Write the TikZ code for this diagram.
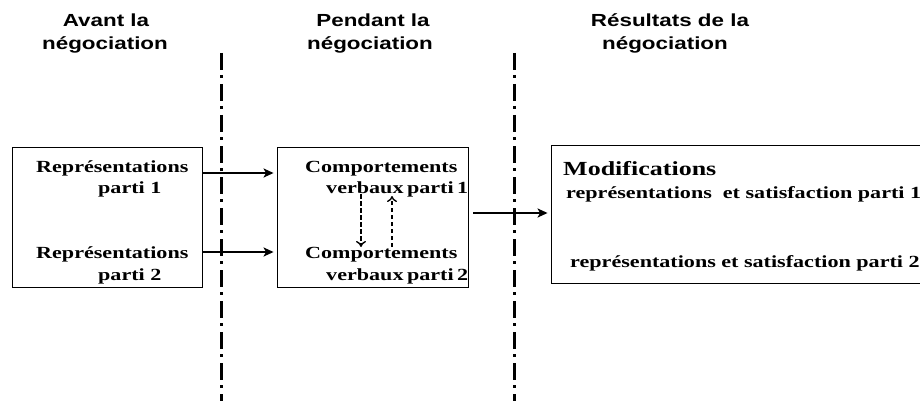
\documentclass[tikz,border=0pt]{standalone}
\usepackage{fontspec}
\usetikzlibrary{arrows.meta}
\newfontfamily\headfont[FakeStretch=1.28]{Liberation Sans}
\newfontfamily\bodyfont[FakeStretch=1.3]{Liberation Serif}
\tikzset{
  head/.style={anchor=base,inner sep=0pt,font=\headfont\bfseries\fontsize{17.5}{20}\selectfont},
  body/.style={anchor=base west,inner sep=0pt,font=\bodyfont\bfseries\fontsize{17}{20}\selectfont},
  bigbody/.style={anchor=base west,inner sep=0pt,font=\bodyfont\bfseries\fontsize{20}{24}\selectfont},
  panel/.style={draw,line width=0.9pt,inner sep=0pt},
  divider/.style={line width=3pt,dash pattern=on 17pt off 5pt on 3pt off 6pt},
  arr/.style={line width=2pt,-{Stealth[length=10pt,width=9pt,inset=2.5pt]}},
  darr/.style={line width=1.4pt,dash pattern=on 4.5pt off 2.5pt,-{To[length=6pt,width=10pt,line width=1.4pt]}}
}
\begin{document}
\begin{tikzpicture}[x=1pt,y=-1pt]
\useasboundingbox (0,0) rectangle (920,401);
\clip (0,0) rectangle (920,401);
% headings
\node[head] (h1a) at (106,27) {Avant la};
\node[head] (h1b) at (105,50) {négociation};
\node[head] (h2a) at (373,27) {Pendant la};
\node[head] (h2b) at (370,50) {négociation};
\node[head] (h3a) at (670,27) {Résultats de la};
\node[head] (h3b) at (665,50) {négociation};
% dividers
\coordinate (d1t) at (221,53);
\coordinate (d1b) at (221,405);
\coordinate (d2t) at (514,53);
\coordinate (d2b) at (514,405);
\draw[divider] (d1t) -- (d1b);
\draw[divider] (d2t) -- (d2b);
% boxes
\node[panel,minimum width=190pt,minimum height=140pt] (lbox) at (107,217) {};
\node[panel,minimum width=191pt,minimum height=140pt] (mbox) at (372.5,217) {};
\node[panel,minimum width=384pt,minimum height=138pt] (rbox) at (743,214) {};
% texts
\node[body] (l1) at (36,172) {Représentations};
\node[body] (l1b) at (98,193) {parti 1};
\node[body] (l2) at (36,258) {Représentations};
\node[body] (l2b) at (98,280) {parti 2};
\node[body] (m1) at (305,172) {Comportements};
\node[body] (m1b) at (326,193) {verbaux\hspace{3.5pt}parti\hspace{3.5pt}1};
\node[body] (m2) at (305,258) {Comportements};
\node[body] (m2b) at (326,280) {verbaux\hspace{3.5pt}parti\hspace{3.5pt}2};
\node[bigbody] (r0) at (563,175) {Modifications};
\node[body] (r1) at (566,198) {représentations~ et satisfaction parti 1};
\node[body] (r2) at (570,267) {représentations et satisfaction parti 2};
% arrows
\coordinate (a1) at (0,173);
\coordinate (a2) at (0,252);
\coordinate (a3) at (0,213);
\draw[arr,shorten >=3pt] (lbox.east |- a1) -- (mbox.west |- a1);
\draw[arr,shorten >=3pt] (lbox.east |- a2) -- (mbox.west |- a2);
\draw[arr,shorten <=5pt,shorten >=3pt] (mbox.east |- a3) -- (rbox.west |- a3);
\coordinate (dn1) at (361,194);
\coordinate (dn2) at (361,247);
\coordinate (up1) at (392,247);
\coordinate (up2) at (392,196);
\draw[darr] (dn1) -- (dn2);
\draw[darr] (up1) -- (up2);
\end{tikzpicture}
\end{document}
